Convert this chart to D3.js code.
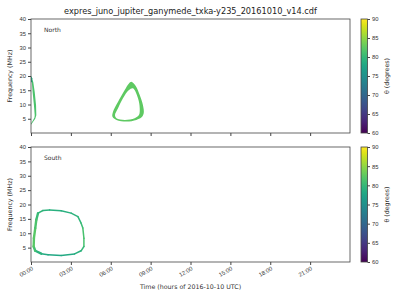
<!DOCTYPE html>
<html>
<head>
<meta charset="utf-8">
<script src="https://cdn.jsdelivr.net/npm/d3@7"></script>
<style>
  body { margin: 0; background: #fff; }
  svg { display: block; font-family: "DejaVu Sans", sans-serif; }
  .tick text { fill: #333; }
  .domain, .tick line { stroke: #444; }
</style>
</head>
<body>
<div id="chart"></div>
<script>
const title = "expres_juno_jupiter_ganymede_txka-y235_20161010_v14.cdf";
const panelNames = ["North", "South"];
const hourTicks = [0, 3, 6, 9, 12, 15, 18, 21];
const freqTicks = [5, 10, 15, 20, 25, 30, 35, 40];
const thetaTicks = [60, 65, 70, 75, 80, 85, 90];

// North, early arc (band outline: outer edge down, inner edge back up)
const northArcHours = [0.0, 0.07, 0.17, 0.28, 0.38, 0.40, 0.32, 0.15, 0.0, 0.0, 0.13, 0.26, 0.28, 0.22, 0.12, 0.06, 0.0];
const northArcFreqs = [20.0, 19.0, 17.9, 14.4, 9.7, 6.2, 5.0, 3.9, 2.9, 3.3, 4.3, 5.4, 6.2, 9.7, 14.4, 17.9, 19.0];
const northArcTheta = 81.5;
const northArcTopHours = [0.0, 0.1, 0.1, 0.0];
const northArcTopFreqs = [20.0, 19.2, 17.6, 18.0];
const northArcTopTheta = 78.5;

// North, loop near 07h (outer and inner edges)
const northLoopOuterHours = [7.55, 7.88, 8.18, 8.42, 8.48, 8.30, 7.93, 7.18, 6.43, 6.13, 6.17, 6.55, 7.05, 7.37];
const northLoopOuterFreqs = [18.0, 16.5, 13.3, 9.8, 6.9, 5.4, 4.6, 4.0, 4.6, 5.7, 7.5, 11.0, 15.1, 17.4];
const northLoopInnerHours = [7.67, 8.05, 8.18, 8.12, 7.80, 7.05, 6.43, 6.32, 6.55, 6.92, 7.37];
const northLoopInnerFreqs = [15.7, 12.2, 8.7, 6.3, 5.2, 4.6, 5.2, 6.3, 8.7, 12.2, 15.1];
const northLoopTheta = 82.5;

// South, loop 00h-04h (centre line with theta along it)
const southLoopHours = [0.40, 0.53, 0.90, 1.40, 2.27, 3.02, 3.53, 3.77, 3.90, 3.98, 3.98, 3.77, 3.28, 2.27, 1.28, 0.77, 0.32, 0.20, 0.22, 0.32, 0.40];
const southLoopFreqs = [14.7, 17.0, 17.9, 18.1, 17.8, 17.0, 15.8, 13.5, 11.8, 8.3, 5.4, 3.9, 2.8, 2.3, 2.5, 2.9, 3.9, 5.4, 8.3, 11.8, 14.7];
const southLoopTheta = [81, 80, 79.5, 79, 79, 79, 79.5, 80, 81, 81.5, 81, 79.5, 78.5, 78, 78, 78.5, 80, 82, 82.5, 82, 81];

const W = 400, H = 300;
const left = 31, right = 350;
const panels = [{top: 19, bottom: 133}, {top: 147, bottom: 262}];
const cbLeft = 361, cbWidth = 6.5;

const svg = d3.select("#chart").append("svg")
    .attr("width", W).attr("height", H);

const x = d3.scaleLinear().domain([0, 24]).range([left, right]);
const color = d3.scaleSequential(d3.interpolateViridis).domain([60, 90]);

svg.append("text")
    .attr("x", (left + right) / 2).attr("y", 14)
    .attr("text-anchor", "middle")
    .attr("font-size", 8.2).attr("fill", "#222")
    .text(title);

// colorbar gradient
const grad = svg.append("defs").append("linearGradient")
    .attr("id", "viridis").attr("x1", 0).attr("y1", 1).attr("x2", 0).attr("y2", 0);
d3.range(0, 1.001, 0.05).forEach(t => {
    grad.append("stop").attr("offset", t).attr("stop-color", d3.interpolateViridis(t));
});

const pxFromData = (hs, fs, y) => hs.map((h, i) => [x(h), y(fs[i])]);
const smooth = d3.line().curve(d3.curveCatmullRomClosed.alpha(0.5));
const sharp = pts => "M" + pts.map(p => p.join(",")).join("L") + "Z";

panels.forEach((p, k) => {
    const y = d3.scaleLinear().domain([0, 40]).range([p.bottom, p.top]);
    const g = svg.append("g");

    const clipId = "clip" + k;
    g.append("clipPath").attr("id", clipId).append("rect")
        .attr("x", left).attr("y", p.top).attr("width", right - left).attr("height", p.bottom - p.top);
    const marks = g.append("g").attr("clip-path", `url(#${clipId})`);

    if (k === 0) {
        marks.append("path")
            .attr("d", sharp(pxFromData(northArcHours, northArcFreqs, y)))
            .attr("fill", color(northArcTheta));
        marks.append("path")
            .attr("d", sharp(pxFromData(northArcTopHours, northArcTopFreqs, y)))
            .attr("fill", color(northArcTopTheta));
        marks.append("path")
            .attr("d", smooth(pxFromData(northLoopOuterHours, northLoopOuterFreqs, y)) +
                       smooth(pxFromData(northLoopInnerHours, northLoopInnerFreqs, y)))
            .attr("fill-rule", "evenodd")
            .attr("fill", color(northLoopTheta));
    } else {
        const line = d3.line();
        for (let i = 0; i < southLoopHours.length - 1; i++) {
            marks.append("path")
                .attr("d", line([[x(southLoopHours[i]), y(southLoopFreqs[i])],
                                 [x(southLoopHours[i + 1]), y(southLoopFreqs[i + 1])]]))
                .attr("fill", "none")
                .attr("stroke", color((southLoopTheta[i] + southLoopTheta[i + 1]) / 2))
                .attr("stroke-width", southLoopHours[i] < 1 && southLoopFreqs[i] < 16 ? 2.4 : 1.5)
                .attr("stroke-linecap", "round");
        }
    }

    // frame
    g.append("rect")
        .attr("x", left).attr("y", p.top)
        .attr("width", right - left).attr("height", p.bottom - p.top)
        .attr("fill", "none").attr("stroke", "#444").attr("stroke-width", 0.8);

    g.append("g")
        .attr("transform", `translate(${left},0)`)
        .call(d3.axisLeft(y).tickValues(freqTicks).tickSize(3).tickPadding(2))
        .call(a => a.select(".domain").remove())
        .call(a => a.selectAll("text").attr("font-size", 5.8));

    const xa = g.append("g")
        .attr("transform", `translate(0,${p.bottom})`)
        .call(d3.axisBottom(x).tickValues(hourTicks).tickSize(3)
            .tickFormat(d => (d < 10 ? "0" : "") + d + ":00"))
        .call(a => a.select(".domain").remove());
    if (k === 0) {
        xa.selectAll("text").remove();
    } else {
        xa.selectAll("text")
            .attr("font-size", 5.8)
            .attr("text-anchor", "end")
            .attr("dy", null).attr("y", 0)
            .attr("transform", "translate(1,6) rotate(-30)")
            .attr("dominant-baseline", "central");
    }

    g.append("text")
        .attr("transform", `translate(12,${(p.top + p.bottom) / 2}) rotate(-90)`)
        .attr("text-anchor", "middle").attr("font-size", 6.3).attr("fill", "#333")
        .text("Frequency (MHz)");

    g.append("text")
        .attr("x", 44).attr("y", p.top + 13)
        .attr("font-size", 6).attr("fill", "#333")
        .text(panelNames[k]);

    // colorbar
    const cy = d3.scaleLinear().domain([60, 90]).range([p.bottom, p.top]);
    g.append("rect")
        .attr("x", cbLeft).attr("y", p.top)
        .attr("width", cbWidth).attr("height", p.bottom - p.top)
        .attr("fill", "url(#viridis)").attr("stroke", "#444").attr("stroke-width", 0.8);
    g.append("g")
        .attr("transform", `translate(${cbLeft + cbWidth},0)`)
        .call(d3.axisRight(cy).tickValues(thetaTicks).tickSize(2.5).tickPadding(2))
        .call(a => a.select(".domain").remove())
        .call(a => a.selectAll("text").attr("font-size", 5.8));
    g.append("text")
        .attr("transform", `translate(389,${(p.top + p.bottom) / 2}) rotate(-90)`)
        .attr("text-anchor", "middle").attr("font-size", 6.3).attr("fill", "#333")
        .text("θ (degrees)");
});

svg.append("text")
    .attr("x", (left + right) / 2).attr("y", 289)
    .attr("text-anchor", "middle").attr("font-size", 6.3).attr("fill", "#333")
    .text("Time (hours of 2016-10-10 UTC)");
</script>
</body>
</html>
